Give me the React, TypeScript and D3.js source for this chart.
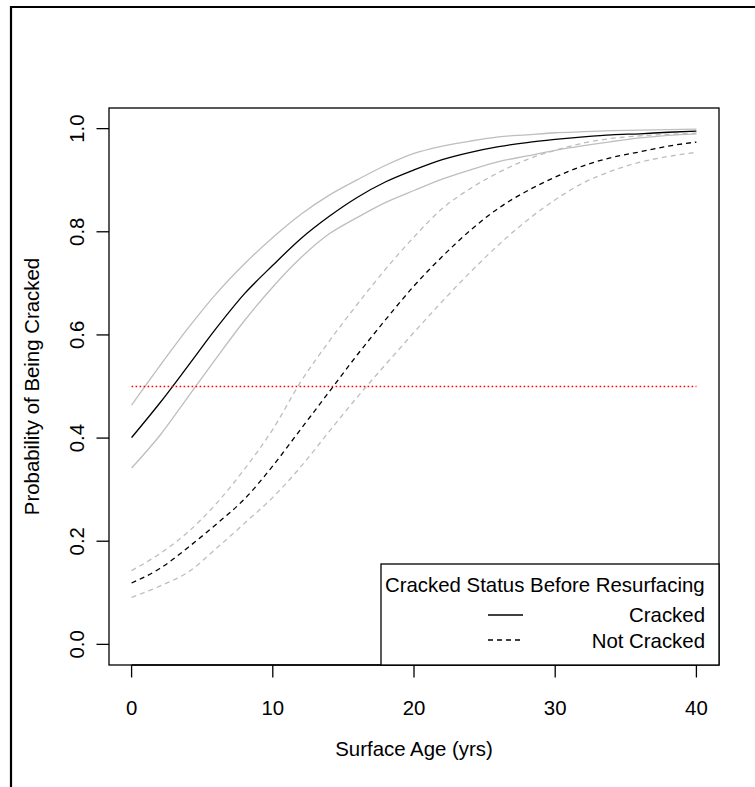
import * as d3 from 'd3';

// surface age (yrs) at which the fitted curves were read
const ages = [0, 2, 4, 6, 8, 10, 12, 14, 16, 18, 20, 22, 24, 26, 28, 30, 32, 34, 36, 38, 40];

// cracked before resurfacing
const crackedFit = [0.401, 0.468, 0.54, 0.613, 0.68, 0.735, 0.787, 0.83, 0.867, 0.897, 0.92, 0.94, 0.954, 0.965, 0.973, 0.979, 0.984, 0.988, 0.99, 0.993, 0.995];
const crackedUpper = [0.464, 0.54, 0.613, 0.68, 0.738, 0.789, 0.834, 0.871, 0.901, 0.929, 0.952, 0.966, 0.976, 0.984, 0.988, 0.992, 0.994, 0.996, 0.997, 0.998, 0.999];
const crackedLower = [0.342, 0.405, 0.48, 0.555, 0.628, 0.693, 0.75, 0.796, 0.828, 0.857, 0.88, 0.902, 0.92, 0.936, 0.947, 0.958, 0.967, 0.975, 0.982, 0.987, 0.99];

// not cracked before resurfacing
const notCrackedFit = [0.119, 0.147, 0.188, 0.233, 0.282, 0.346, 0.418, 0.49, 0.562, 0.63, 0.695, 0.752, 0.803, 0.846, 0.879, 0.906, 0.928, 0.944, 0.955, 0.966, 0.974];
const notCrackedUpper = [0.143, 0.176, 0.218, 0.273, 0.34, 0.417, 0.51, 0.588, 0.66, 0.728, 0.79, 0.845, 0.884, 0.915, 0.94, 0.958, 0.972, 0.981, 0.986, 0.989, 0.991];
const notCrackedLower = [0.091, 0.113, 0.14, 0.186, 0.235, 0.285, 0.345, 0.413, 0.48, 0.543, 0.605, 0.665, 0.722, 0.775, 0.822, 0.862, 0.895, 0.918, 0.935, 0.946, 0.954];

const xTicks = [0, 10, 20, 30, 40];
const yTicks = [0, 0.2, 0.4, 0.6, 0.8, 1.0];
const legendLabels = ['Cracked', 'Not Cracked'];

const W = 755;
const H = 787;
const box = { left: 109, top: 108, right: 719, bottom: 665 };
const font = '"Liberation Sans", Arial, sans-serif';
const fs = 20.4;
const gray = '#bebebe';

function App() {
  const x = d3.scaleLinear().domain([-1.6, 41.6]).range([box.left, box.right]);
  const y = d3.scaleLinear().domain([-0.04, 1.04]).range([box.bottom, box.top]);

  const line = d3.line<number>()
    .x((_, i) => x(ages[i]))
    .y(d => y(d))
    .curve(d3.curveMonotoneX);

  const series = [
    { values: crackedUpper, color: gray, dash: null },
    { values: crackedLower, color: gray, dash: null },
    { values: notCrackedUpper, color: gray, dash: '5,4' },
    { values: notCrackedLower, color: gray, dash: '5,4' },
    { values: crackedFit, color: '#000', dash: null },
    { values: notCrackedFit, color: '#000', dash: '5,4' },
  ];

  const legend = { left: 381, top: 564, right: box.right, bottom: box.bottom };

  return (
    <svg width={W} height={H} style={{ position: 'absolute', left: 0, top: 0 }} fontFamily={font}>
      <rect x={0} y={0} width={W} height={H} fill="#fff" />
      {/* outer frame, cut off at right and bottom */}
      <path d={`M11,${H + 5}V7H${W + 5}`} fill="none" stroke="#000" strokeWidth={2.2} />

      {series.map((s, i) => (
        <path key={i} d={line(s.values) ?? ''} fill="none" stroke={s.color}
          strokeWidth={1.3} strokeDasharray={s.dash ?? undefined} />
      ))}

      <line x1={x(0)} x2={x(40)} y1={y(0.5)} y2={y(0.5)} stroke="#ff0000"
        strokeWidth={1.6} strokeDasharray="1.6,2.4" />

      <rect x={box.left} y={box.top} width={box.right - box.left} height={box.bottom - box.top}
        fill="none" stroke="#000" strokeWidth={1.3} />

      {/* x axis */}
      <line x1={x(0)} x2={x(40)} y1={box.bottom} y2={box.bottom} stroke="#000" strokeWidth={1.3} />
      {xTicks.map(t => (
        <g key={t}>
          <line x1={x(t)} x2={x(t)} y1={box.bottom} y2={box.bottom + 12.5} stroke="#000" strokeWidth={1.3} />
          <text x={x(t)} y={714.5} fontSize={fs} textAnchor="middle">{t}</text>
        </g>
      ))}
      <text x={(box.left + box.right) / 2} y={756} fontSize={fs} textAnchor="middle">Surface Age (yrs)</text>

      {/* y axis */}
      {yTicks.map(t => (
        <g key={t}>
          <line x1={box.left - 12.5} x2={box.left} y1={y(t)} y2={y(t)} stroke="#000" strokeWidth={1.3} />
          <text transform={`translate(83.5,${y(t)}) rotate(-90)`} fontSize={fs} textAnchor="middle">{t.toFixed(1)}</text>
        </g>
      ))}
      <text transform={`translate(39,${(box.top + box.bottom) / 2}) rotate(-90)`} fontSize={fs} textAnchor="middle">
        Probability of Being Cracked
      </text>

      {/* legend */}
      <rect x={legend.left} y={legend.top} width={legend.right - legend.left} height={legend.bottom - legend.top}
        fill="#fff" stroke="#000" strokeWidth={1.3} />
      <text x={385} y={592} fontSize={fs}>Cracked Status Before Resurfacing</text>
      {legendLabels.map((lab, i) => (
        <g key={lab}>
          <line x1={488} x2={523} y1={615 + i * 25} y2={615 + i * 25} stroke="#000" strokeWidth={1.3}
            strokeDasharray={i === 1 ? '5,4' : undefined} />
          <text x={705} y={621.5 + i * 26} fontSize={fs} textAnchor="end">{lab}</text>
        </g>
      ))}
    </svg>
  );
}

export default App;
